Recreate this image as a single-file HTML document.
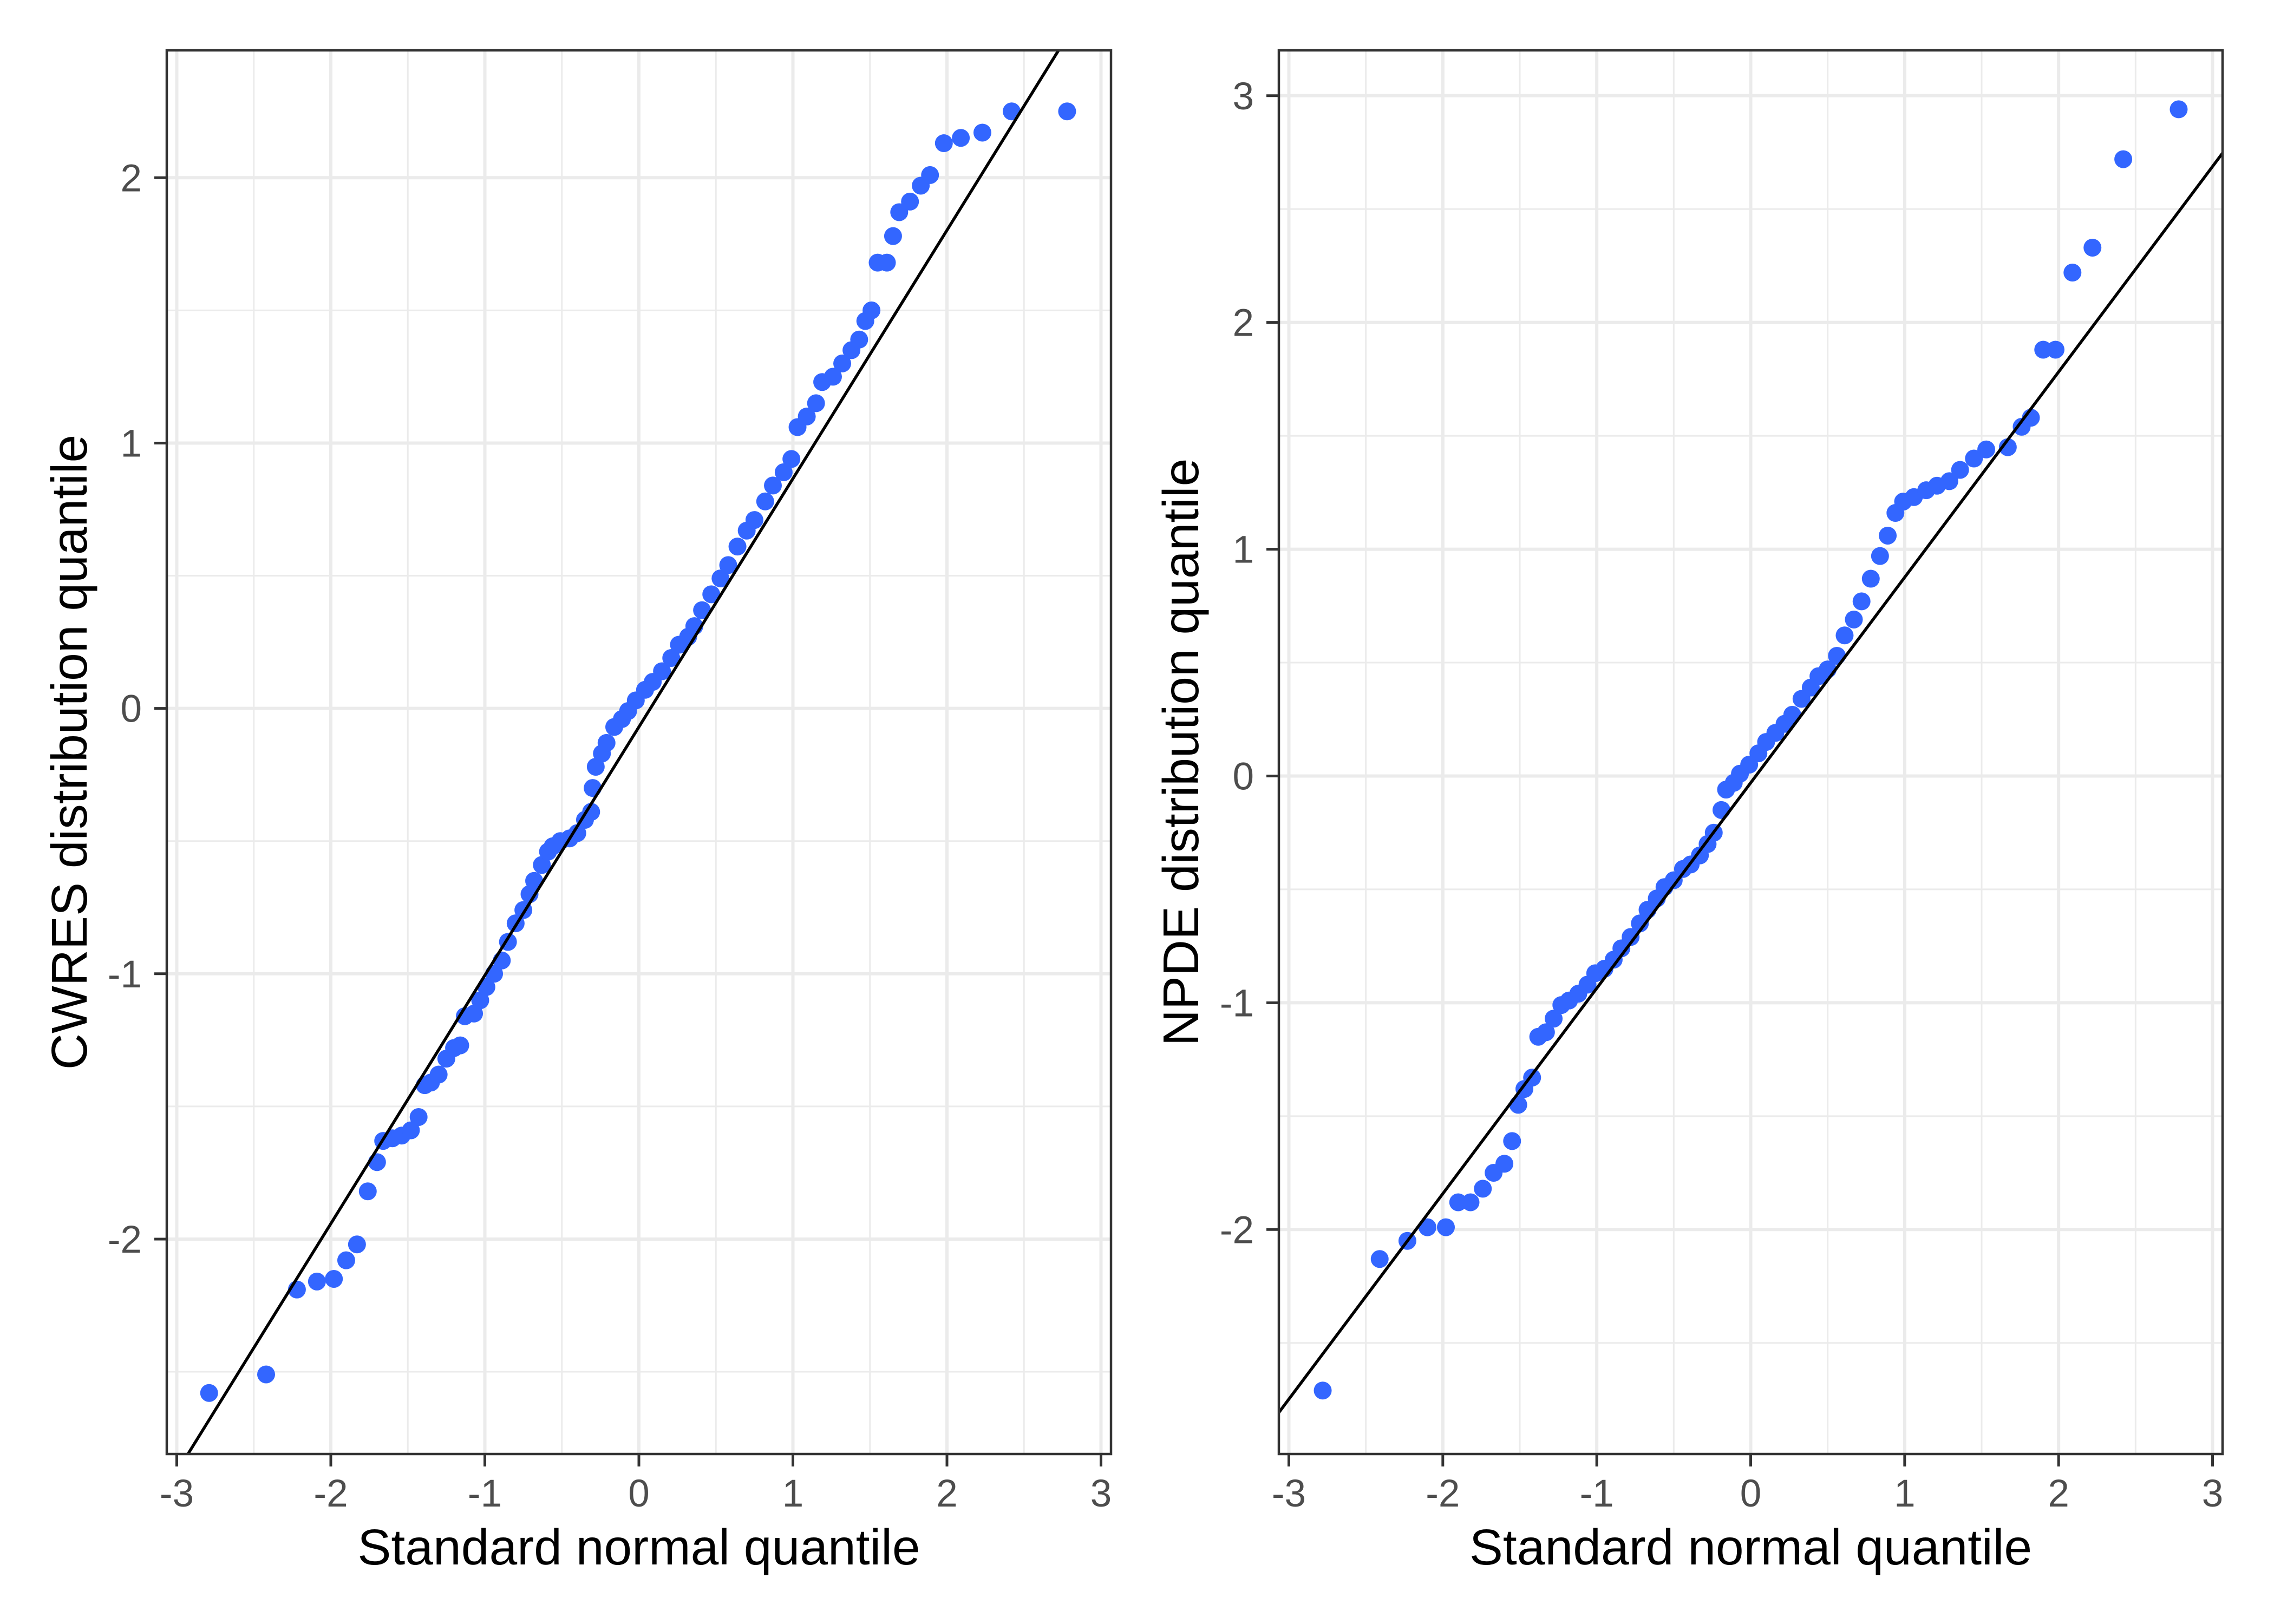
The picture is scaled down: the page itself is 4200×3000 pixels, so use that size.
<!DOCTYPE html>
<html><head><meta charset="utf-8"><style>
html,body{margin:0;padding:0;background:#fff;}
svg{display:block;}
text{font-family:"Liberation Sans",Arial,sans-serif;}
</style></head>
<body>
<svg id="chart" width="4200" height="3000" viewBox="0 0 4200 3000" xmlns="http://www.w3.org/2000/svg">
<rect x="0" y="0" width="4200" height="3000" fill="#fff"/>
</svg>
<script>
// ---- data ----
const cwresX = [-2.79,-2.42,-2.22,-2.09,-1.98,-1.90,-1.83,-1.76,-1.70,-1.66,-1.60,-1.54,-1.48,-1.43,-1.39,-1.35,-1.30,-1.25,-1.20,-1.16,-1.13,-1.07,-1.03,-0.99,-0.94,-0.89,-0.85,-0.80,-0.75,-0.71,-0.68,-0.63,-0.59,-0.56,-0.51,-0.45,-0.40,-0.35,-0.31,-0.30,-0.28,-0.24,-0.21,-0.16,-0.11,-0.07,-0.02,0.04,0.09,0.15,0.21,0.26,0.32,0.36,0.41,0.47,0.53,0.58,0.64,0.70,0.75,0.82,0.87,0.94,0.99,1.03,1.09,1.15,1.19,1.26,1.32,1.38,1.43,1.47,1.51,1.55,1.61,1.65,1.69,1.76,1.83,1.89,1.98,2.09,2.23,2.42,2.78];
const cwresY = [-2.58,-2.51,-2.19,-2.16,-2.15,-2.08,-2.02,-1.82,-1.71,-1.63,-1.62,-1.61,-1.59,-1.54,-1.42,-1.41,-1.38,-1.32,-1.28,-1.27,-1.16,-1.15,-1.10,-1.05,-1.00,-0.95,-0.88,-0.81,-0.76,-0.70,-0.65,-0.59,-0.54,-0.52,-0.50,-0.49,-0.47,-0.42,-0.39,-0.30,-0.22,-0.17,-0.13,-0.07,-0.04,-0.01,0.03,0.07,0.10,0.14,0.19,0.24,0.27,0.31,0.37,0.43,0.49,0.54,0.61,0.67,0.71,0.78,0.84,0.89,0.94,1.06,1.10,1.15,1.23,1.25,1.30,1.35,1.39,1.46,1.50,1.68,1.68,1.78,1.87,1.91,1.97,2.01,2.13,2.15,2.17,2.25,2.25];
const cwresLine = [0.936, -0.07]; // slope, intercept

const npdeX = [-2.78,-2.41,-2.23,-2.10,-1.98,-1.90,-1.82,-1.74,-1.67,-1.60,-1.55,-1.51,-1.47,-1.42,-1.38,-1.33,-1.28,-1.23,-1.18,-1.12,-1.06,-1.01,-0.95,-0.89,-0.84,-0.78,-0.72,-0.67,-0.61,-0.56,-0.50,-0.44,-0.39,-0.33,-0.28,-0.24,-0.19,-0.16,-0.11,-0.07,-0.01,0.05,0.10,0.16,0.22,0.27,0.33,0.39,0.44,0.50,0.56,0.61,0.67,0.72,0.78,0.84,0.89,0.94,0.99,1.06,1.14,1.21,1.29,1.36,1.45,1.53,1.67,1.76,1.82,1.90,1.98,2.09,2.22,2.42,2.78];
const npdeY = [-2.71,-2.13,-2.05,-1.99,-1.99,-1.88,-1.88,-1.82,-1.75,-1.71,-1.61,-1.45,-1.38,-1.33,-1.15,-1.13,-1.07,-1.01,-0.99,-0.96,-0.92,-0.87,-0.85,-0.81,-0.76,-0.71,-0.65,-0.59,-0.54,-0.49,-0.46,-0.41,-0.39,-0.35,-0.30,-0.25,-0.15,-0.06,-0.03,0.01,0.05,0.10,0.15,0.19,0.23,0.27,0.34,0.39,0.44,0.47,0.53,0.62,0.69,0.77,0.87,0.97,1.06,1.16,1.21,1.23,1.26,1.28,1.30,1.35,1.40,1.44,1.45,1.54,1.58,1.88,1.88,2.22,2.33,2.72,2.94];
const npdeLine = [0.906, -0.03];

const xTicks = [-3,-2,-1,0,1,2,3];
const xMinor = [-2.5,-1.5,-0.5,0.5,1.5,2.5];
const cwresTicks = [-2,-1,0,1,2];
const cwresMinor = [-2.5,-1.5,-0.5,0.5,1.5];
const npdeTicks = [-2,-1,0,1,2,3];
const npdeMinor = [-2.5,-1.5,-0.5,0.5,1.5,2.5];

const NS = "http://www.w3.org/2000/svg";
const svg = document.getElementById('chart');
function mk(tag, attrs, parent){
  const e = document.createElementNS(NS, tag);
  for (const k in attrs) e.setAttribute(k, attrs[k]);
  (parent||svg).appendChild(e);
  return e;
}

function panel(cfg){
  const g = mk('g', {});
  
  
  const L=cfg.left, R=cfg.right, T=93, B=2686;
  const xmin=-3.065, xmax=3.065;
  const sx = v => L + (v - xmin)/(xmax - xmin)*(R-L);
  const sy = v => T + (cfg.ymax - v)/(cfg.ymax - cfg.ymin)*(B-T);
  mk('rect',{x:L,y:T,width:R-L,height:B-T,fill:'#fff'},g);
  // minor grid
  cfg.yMinor.forEach(v=>{
    const l = mk('line',{x1:L,x2:R,y1:sy(v),y2:sy(v),stroke:'#EBEBEB','stroke-width':3},g);
    
    
  });
  xMinor.forEach(v=>{
    const l = mk('line',{x1:sx(v),x2:sx(v),y1:T,y2:B,stroke:'#EBEBEB','stroke-width':3},g);
    
    
  });
  // major grid
  cfg.yTicks.forEach(v=>{
    const l = mk('line',{x1:L,x2:R,y1:sy(v),y2:sy(v),stroke:'#EBEBEB','stroke-width':6},g);
    
    
  });
  xTicks.forEach(v=>{
    const l = mk('line',{x1:sx(v),x2:sx(v),y1:T,y2:B,stroke:'#EBEBEB','stroke-width':6},g);
    
    
  });
  // points
  cfg.xs.forEach((xv,i)=>{
    const c = mk('circle',{cx:sx(xv),cy:sy(cfg.ys[i]),r:16.5,fill:'#3366FF'},g);
    
    
  });
  // reference line clipped
  const cid = cfg.name+'-clip';
  const cp = mk('clipPath',{id:cid},g);
  mk('rect',{x:L,y:T,width:R-L,height:B-T},cp);
  const ln = mk('line',{x1:sx(xmin),y1:sy(cfg.line[0]*xmin+cfg.line[1]),x2:sx(xmax),y2:sy(cfg.line[0]*xmax+cfg.line[1]),stroke:'#000','stroke-width':5.5,'clip-path':'url(#'+cid+')'},g);
  
  
  // border
  const bd = mk('rect',{x:L,y:T,width:R-L,height:B-T,fill:'none',stroke:'#333','stroke-width':4.5},g);
  
  
  // x ticks
  xTicks.forEach(v=>{
    mk('line',{x1:sx(v),x2:sx(v),y1:B,y2:B+23,stroke:'#333','stroke-width':5},g);
    const t = mk('text',{x:sx(v),y:2783,'font-size':71,fill:'#4D4D4D','text-anchor':'middle'},g);
    t.textContent = (v<0?'-':'')+Math.abs(v);
    
    
  });
  // y ticks
  cfg.yTicks.forEach(v=>{
    mk('line',{x1:L-23,x2:L,y1:sy(v),y2:sy(v),stroke:'#333','stroke-width':5},g);
    const t = mk('text',{x:L-46,y:sy(v)+25,'font-size':71,fill:'#4D4D4D','text-anchor':'end'},g);
    t.textContent = (v<0?'-':'')+Math.abs(v);
    
    
  });
  const xt = mk('text',{x:(L+R)/2,y:2890,'font-size':93,fill:'#000','text-anchor':'middle'},g);
  xt.textContent = 'Standard normal quantile';
  
  
  const yt = mk('text',{x:0,y:0,'font-size':93,fill:'#000','text-anchor':'middle',transform:'translate('+(cfg.titleX+33)+','+((T+B)/2)+') rotate(-90)'},g);
  yt.textContent = cfg.ytitle;
  
  
}

panel({name:'cwres-panel',left:308,right:2052,ymin:-2.81,ymax:2.48,xs:cwresX,ys:cwresY,line:cwresLine,yTicks:cwresTicks,yMinor:cwresMinor,ytitle:'CWRES distribution quantile',titleX:127});
panel({name:'npde-panel',left:2362,right:4105,ymin:-2.99,ymax:3.20,xs:npdeX,ys:npdeY,line:npdeLine,yTicks:npdeTicks,yMinor:npdeMinor,ytitle:'NPDE distribution quantile',titleX:2180});
</script>
</body></html>
